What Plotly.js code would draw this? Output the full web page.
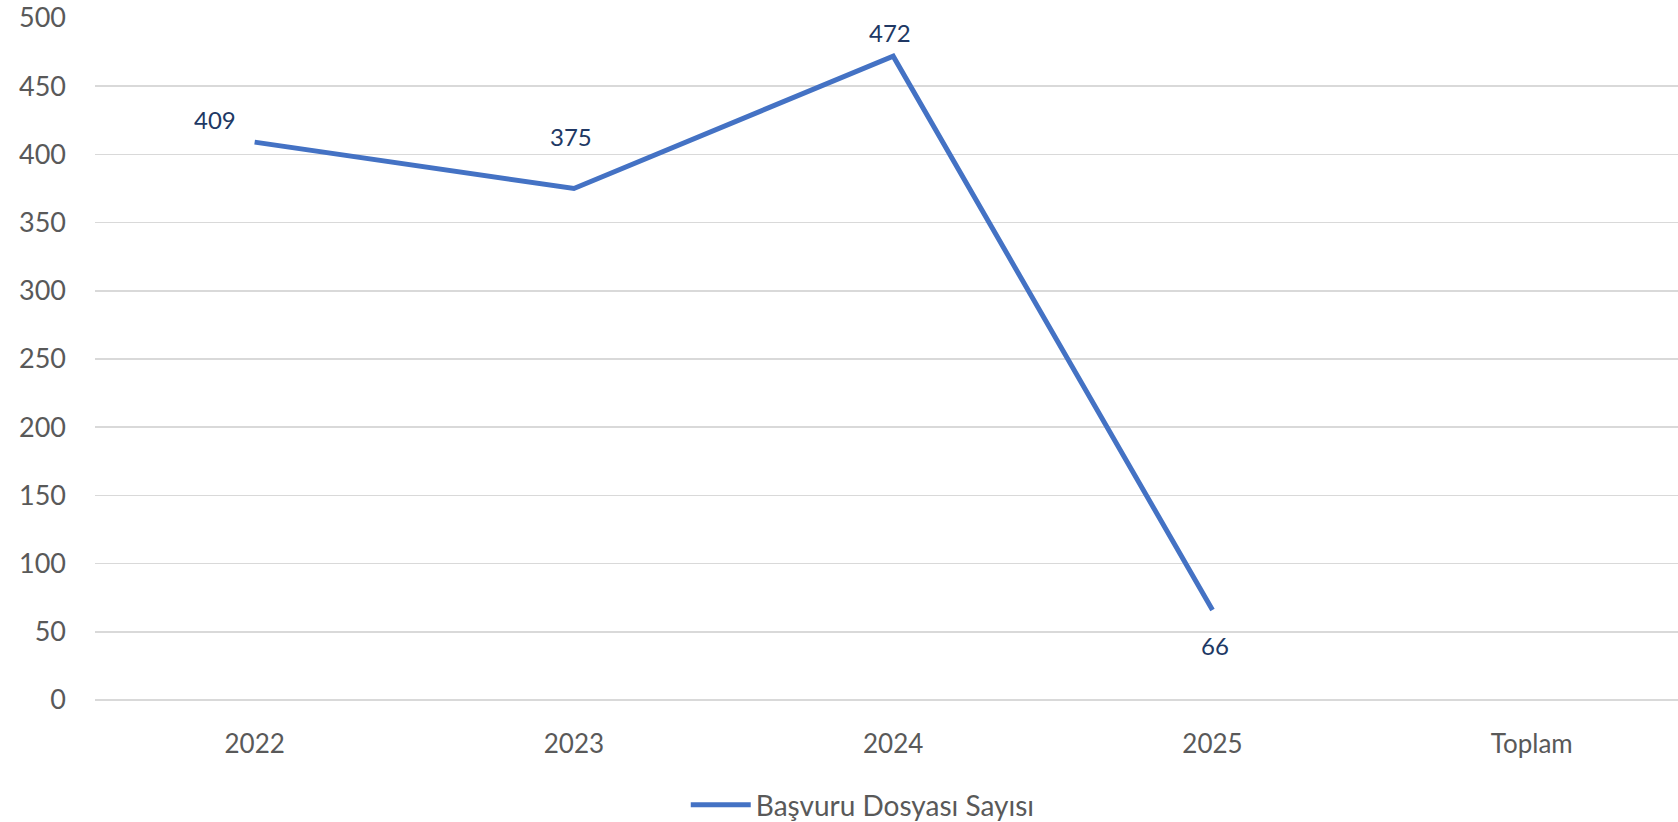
<!DOCTYPE html>
<html>
<head>
<meta charset="utf-8">
<script src="https://cdn.plot.ly/plotly-3.0.1.min.js"></script>
<style>html,body{margin:0;padding:0;background:#fff;}#chart{width:1678px;height:822px;}</style>
</head>
<body>
<div id="chart"></div>
<script>
const categories = ["2022", "2023", "2024", "2025", "Toplam"];
const values = [409, 375, 472, 66, null];
const seriesName = "Başvuru Dosyası Sayısı";
const yTicks = [0, 50, 100, 150, 200, 250, 300, 350, 400, 450, 500];

// label placement (style only): pixel offsets from each point
const labelStyle = [
  {xshift: -40, yshift: 23},
  {xshift: -3, yshift: 52},
  {xshift: -3, yshift: 24},
  {xshift: 3, yshift: -36},
  {xshift: 0, yshift: 20}
];

const trace = {
  x: categories,
  y: values,
  type: "scatter",
  mode: "lines",
  name: seriesName,
  line: {color: "#4472C4", width: 5},
  hoverinfo: "x+y"
};

// on a category axis annotations are placed by category index
const annotations = [];
categories.forEach((c, i) => {
  if (values[i] === null) return;
  annotations.push({
    x: i,
    y: values[i],
    xref: "x",
    yref: "y",
    text: String(values[i]),
    showarrow: false,
    xanchor: "center",
    yanchor: "middle",
    xshift: labelStyle[i].xshift,
    yshift: labelStyle[i].yshift,
    font: {family: "Lato, 'Open Sans', sans-serif", size: 24, color: "#203864"}
  });
});

const layout = {
  width: 1678,
  height: 822,
  margin: {l: 95, r: 0, t: 18, b: 122, autoexpand: false},
  paper_bgcolor: "#ffffff",
  plot_bgcolor: "#ffffff",
  font: {family: "Lato, 'Open Sans', sans-serif", color: "#595959"},
  showlegend: true,
  legend: {
    orientation: "h",
    x: 0.485, xanchor: "center",
    y: -0.154, yanchor: "middle",
    font: {size: 28, color: "#595959"},
    itemwidth: 60
  },
  annotations: annotations,
  xaxis: {
    type: "category",
    range: [-0.5, 4.458],
    showgrid: false,
    zeroline: false,
    showline: false,
    ticks: "",
    tickfont: {size: 26, color: "#595959"},
    ticklabelstandoff: 26,
    automargin: false
  },
  yaxis: {
    range: [0, 500],
    tickvals: yTicks,
    ticktext: yTicks.map(String),
    showgrid: true,
    gridcolor: "#D9D9D9",
    gridwidth: 1.5,
    zeroline: true,
    zerolinecolor: "#D9D9D9",
    zerolinewidth: 1.5,
    showline: false,
    ticks: "",
    tickfont: {size: 27, color: "#595959"},
    ticklabelstandoff: 28,
    automargin: false
  }
};

Plotly.newPlot("chart", [trace], layout, {staticPlot: true, displayModeBar: false});
</script>
</body>
</html>
